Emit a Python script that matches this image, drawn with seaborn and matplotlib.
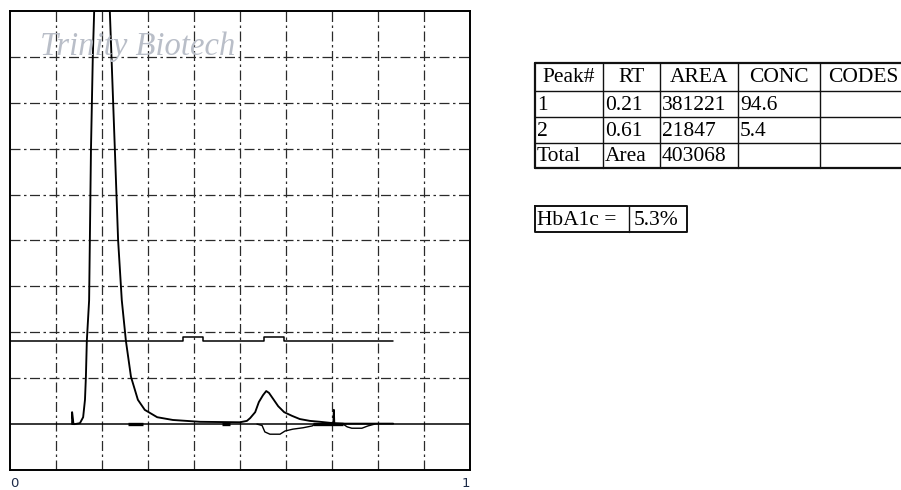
import matplotlib
matplotlib.use("Agg")
import matplotlib.pyplot as plt
import seaborn as sns
import pandas as pd

# ---- chromatogram trace (retention time, signal) ----
trace_rt = [0.135, 0.135, 0.138, 0.141, 0.152, 0.159, 0.163, 0.165, 0.167, 0.172,
            0.176, 0.180, 0.186, 0.200, 0.212, 0.217, 0.228, 0.235, 0.243, 0.252,
            0.263, 0.278, 0.293, 0.320, 0.354, 0.413, 0.500, 0.515, 0.522, 0.533,
            0.541, 0.550, 0.557, 0.563, 0.572, 0.583, 0.596, 0.613, 0.630, 0.652,
            0.674, 0.703, 0.704, 0.705, 0.728, 0.833]
trace_sig = [1.00, 1.26, 1.00, 1.00, 1.02, 1.15, 1.53, 2.03, 2.81, 3.70,
             6.97, 9.00, 11.0, 13.0, 11.5, 10.0, 6.97, 5.01, 3.70, 2.81,
             2.03, 1.53, 1.31, 1.15, 1.09, 1.05, 1.04, 1.07, 1.13, 1.26,
             1.48, 1.63, 1.72, 1.68, 1.55, 1.39, 1.26, 1.18, 1.11, 1.07,
             1.05, 1.02, 1.31, 1.02, 1.01, 1.01]

# ---- inverted (negative) trace ----
neg_rt = [0.537, 0.548, 0.554, 0.565, 0.587, 0.598, 0.615, 0.637, 0.657, 0.663,
          0.724, 0.733, 0.743, 0.765, 0.778, 0.793]
neg_sig = [1.00, 0.97, 0.83, 0.78, 0.78, 0.85, 0.89, 0.92, 0.96, 1.00,
           1.00, 0.94, 0.91, 0.91, 0.96, 1.00]

# ---- integration marker line (step trace) ----
step_rt = [0.0, 0.376, 0.420, 0.552, 0.596, 0.833]
step_sig = [2.81, 2.90, 2.81, 2.90, 2.81, 2.81]

# ---- integration ticks on the baseline ----
seg_start = [0.257, 0.461, 0.659]
seg_end = [0.289, 0.478, 0.724]

baseline_level = 1.0

# ---- result table ----
table_header = ["Peak#", "RT", "AREA", "CONC", "CODES"]
table_rows = [["1", "0.21", "381221", "94.6", ""],
              ["2", "0.61", "21847", "5.4", ""],
              ["Total", "Area", "403068", "", ""]]
hba1c_label = "HbA1c ="
hba1c_value = "5.3%"
watermark = "Trinity Biotech"

W, H = 901, 490
sns.set_theme(style="white")
plt.rcParams["font.family"] = ["DejaVu Sans"]
fig = plt.figure(figsize=(W / 100, H / 100), dpi=100)

# chart axes in pixel layout
ax_l, ax_t, ax_r, ax_b = 10, 11, 470, 470
ax = fig.add_axes([ax_l / W, 1 - ax_b / H, (ax_r - ax_l) / W, (ax_b - ax_t) / H])
ax.set_xlim(0, 1)
ax.set_ylim(0, 10)

# dash-dot grid
grid_style = dict(color="#2a2a2a", lw=0.9, dashes=(8.0, 2.8, 2.0, 2.8))
for gx in [i / 10 for i in range(1, 10)]:
    ax.axvline(gx, **grid_style, zorder=1)
for gy in range(2, 10):
    ax.axhline(gy, **grid_style, zorder=1)
ax.axhline(baseline_level, color="black", lw=1.1, zorder=2)

df_trace = pd.DataFrame({"rt": trace_rt, "sig": trace_sig})
df_neg = pd.DataFrame({"rt": neg_rt, "sig": neg_sig})
df_step = pd.DataFrame({"rt": step_rt, "sig": step_sig})

sns.lineplot(data=df_step, x="rt", y="sig", ax=ax, color="black", lw=1.1,
             sort=False, estimator=None, drawstyle="steps-post", zorder=3)
sns.lineplot(data=df_trace, x="rt", y="sig", ax=ax, color="black", lw=1.35,
             sort=False, estimator=None, zorder=4)
sns.lineplot(data=df_neg, x="rt", y="sig", ax=ax, color="black", lw=1.0,
             sort=False, estimator=None, zorder=4)
for s, e in zip(seg_start, seg_end):
    ax.plot([s, e], [baseline_level, baseline_level], color="black", lw=2.4,
            solid_capstyle="butt", zorder=5)

ax.text(0.065, 9.04, watermark, fontsize=23.5, style="italic",
        family=["Liberation Serif"], color="#b9bec8", ha="left",
        va="baseline", zorder=6)

ax.set_xlabel("")
ax.set_ylabel("")
ax.set_yticks([])
ax.set_xticks([0, 1])
ax.set_xticklabels(["0", "1"], fontsize=9.5, color="#1c2a48",
                   family=["DejaVu Sans"])
labs = ax.get_xticklabels()
labs[0].set_ha("left")
labs[1].set_ha("right")
ax.tick_params(axis="x", length=0, pad=5)
for sp in ax.spines.values():
    sp.set_color("black")
    sp.set_linewidth(1.4)
    sp.set_visible(True)

# overlay in figure pixel coordinates for the result table
ov = fig.add_axes([0, 0, 1, 1], zorder=10)
ov.set_xlim(0, W)
ov.set_ylim(H, 0)
ov.axis("off")

col_x = [535, 603, 660, 738, 820, 912]
row_y = [63, 91, 117, 143, 168]
for i, x in enumerate(col_x):
    lw = 1.6 if i in (0, len(col_x) - 1) else 1.0
    ov.plot([x, x], [row_y[0], row_y[-1]], color="#111", lw=lw)
for j, y in enumerate(row_y):
    lw = 1.6 if j in (0, len(row_y) - 1) else 1.0
    ov.plot([col_x[0], col_x[-1]], [y, y], color="#111", lw=lw)

tfont = dict(family=["Liberation Serif"], fontsize=15.5, color="black")
for c, txt in enumerate(table_header):
    if c == len(table_header) - 1:
        ov.text(col_x[c] + 8, (row_y[0] + row_y[1]) / 2 + 1, txt, ha="left",
                va="center", **tfont)
    else:
        ov.text((col_x[c] + col_x[c + 1]) / 2, (row_y[0] + row_y[1]) / 2 + 1,
                txt, ha="center", va="center", **tfont)
for r, row in enumerate(table_rows):
    for c, txt in enumerate(row):
        ov.text(col_x[c] + 2, (row_y[r + 1] + row_y[r + 2]) / 2 + 1, txt,
                ha="left", va="center", **tfont)

# HbA1c result box
bx = [535, 629, 687]
by = [206, 232]
ov.plot([bx[0], bx[2], bx[2], bx[0], bx[0]], [by[0], by[0], by[1], by[1], by[0]],
        color="#111", lw=1.4)
ov.plot([bx[1], bx[1]], by, color="#111", lw=1.0)
ov.text(bx[0] + 2, (by[0] + by[1]) / 2 + 1, hba1c_label, ha="left", va="center", **tfont)
ov.text(bx[1] + 5, (by[0] + by[1]) / 2 + 1, hba1c_value, ha="left", va="center", **tfont)

fig.savefig("out.png", dpi=100)
